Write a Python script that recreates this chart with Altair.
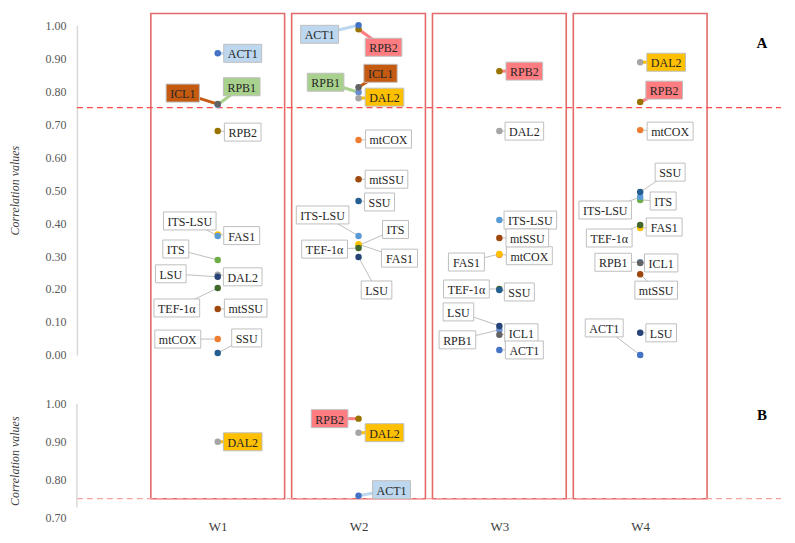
import altair as alt
import pandas as pd

# ---------------- data ----------------
genes = ["ACT1", "DAL2", "FAS1", "ICL1", "ITS", "ITS-LSU", "LSU",
         "mtCOX", "mtSSU", "RPB1", "RPB2", "SSU", "TEF-1α"]
windows = ["W1", "W2", "W3", "W4"]

a_w1 = [0.915, 0.243, 0.365, 0.761, 0.288, 0.361, 0.237, 0.048, 0.139, 0.759, 0.679, 0.006, 0.203]
a_w2 = [1.000, 0.779, 0.336, 0.812, 0.332, 0.361, 0.297, 0.652, 0.533, 0.797, 0.988, 0.467, 0.324]
a_w3 = [0.015, 0.679, 0.306, 0.061, None, 0.409, 0.088, 0.304, 0.355, 0.076, 0.861, 0.197, 0.200]
a_w4 = [0.000, 0.888, 0.385, 0.279, 0.470, 0.479, 0.067, 0.682, 0.245, 0.281, 0.767, 0.494, 0.394]

b_window = ["W1", "W2", "W2", "W2"]
b_gene = ["DAL2", "RPB2", "DAL2", "ACT1"]
b_value = [0.900, 0.961, 0.924, 0.758]

threshold = 0.75
a_ticks = [0.0, 0.1, 0.2, 0.3, 0.4, 0.5, 0.6, 0.7, 0.8, 0.9, 1.0]
b_ticks = [0.70, 0.80, 0.90, 1.00]

# ---------------- styles / layout ----------------
point_colors = {"ACT1": "#4472C4", "mtCOX": "#ED7D31", "DAL2": "#A5A5A5", "FAS1": "#FFC000",
                "ITS-LSU": "#5B9BD5", "ITS": "#70AD47", "LSU": "#264478", "mtSSU": "#9E480E",
                "ICL1": "#636363", "RPB2": "#997300", "SSU": "#255E91", "TEF-1α": "#43682B",
                "RPB1": "#698ED0"}
highlight_fill = {"ACT1": "#BDD7EE", "DAL2": "#FFC000", "ICL1": "#C55A11",
                  "RPB1": "#A9D18E", "RPB2": "#FF7C80"}
draw_order = ["RPB1", "ITS", "mtCOX", "FAS1", "DAL2", "ICL1", "ITS-LSU", "TEF-1α",
              "SSU", "LSU", "RPB2", "ACT1", "mtSSU"]

# label-box centre offsets (pixels) from each point
a_offsets = {
    "W1": {"ACT1": (25, 0), "ICL1": (-35, -11), "RPB1": (24, -18), "RPB2": (25, 1),
           "ITS-LSU": (-28, -15), "FAS1": (24, 1), "ITS": (-42, -11), "LSU": (-47, -3),
           "DAL2": (25, 2), "TEF-1α": (-41, 20), "mtSSU": (28, -1), "mtCOX": (-40, 0),
           "SSU": (29, -15)},
    "W2": {"ACT1": (-39, 9), "RPB2": (25, 18), "RPB1": (-33, -10), "ICL1": (22, -14),
           "DAL2": (26, -1), "mtCOX": (30, -1), "mtSSU": (28, 0), "SSU": (21, 1),
           "ITS-LSU": (-36, -21), "ITS": (37, -16), "TEF-1α": (-34, 1), "FAS1": (41, 14),
           "LSU": (18, 33)},
    "W3": {"RPB2": (25, 0), "DAL2": (25, 0), "ITS-LSU": (31, 0), "mtSSU": (28, 0),
           "mtCOX": (30, 1), "FAS1": (-33, 8), "TEF-1α": (-33, 0), "SSU": (20, 2),
           "LSU": (-41, -14), "RPB1": (-42, 10), "ICL1": (22, -2), "ACT1": (25, 0)},
    "W4": {"DAL2": (26, 0), "RPB2": (24, -12), "mtCOX": (30, 1), "SSU": (30, -20),
           "ITS": (23, 1), "ITS-LSU": (-35, 13), "FAS1": (24, -1), "TEF-1α": (-31, 13),
           "RPB1": (-27, 0), "ICL1": (21, 0), "mtSSU": (16, 16), "LSU": (21, 0),
           "ACT1": (-36, -27)},
}
b_offsets = [(25, 0), (-29, 0), (26, 0), (33, -6)]

W_PX = 705
X_MAX = 5
H_A = 330
H_B = 114
GAP = 49
B_MIN, B_MAX = 0.70, 1.00
FONT = "Liberation Serif"
FS = 12
PAD_X = 4
BOX_H = 18
FRAME_HALF = 0.475

char_w = {'A': 722, 'B': 667, 'C': 667, 'D': 722, 'E': 611, 'F': 556, 'I': 333, 'L': 611,
          'O': 722, 'P': 556, 'R': 667, 'S': 556, 'T': 611, 'U': 722, 'X': 722, 'm': 778,
          't': 278, '-': 333, '1': 500, '2': 500, 'α': 540}


def text_w(s):
    return sum(char_w.get(c, 560) for c in s) / 1000 * FS


def build(rows, y_per_px):
    recs = []
    for wi, g, v, dx, dy in rows:
        x = wi
        lx = x + dx * X_MAX / W_PX
        ly = v - dy * y_per_px
        hw = (text_w(g) + 2 * PAD_X) / 2 * X_MAX / W_PX
        hh = BOX_H / 2 * y_per_px
        hi = v >= threshold
        recs.append(dict(
            gene=g, w=x, value=v, lx=lx, ly=ly,
            bx1=lx - hw, bx2=lx + hw, by1=ly - hh, by2=ly + hh,
            fill=highlight_fill[g] if hi else "#FFFFFF",
            ccol=highlight_fill[g] if hi else "#BFBFBF",
            cw=3 if hi else 1,
            pcol=point_colors[g],
            ordr=draw_order.index(g),
        ))
    df = pd.DataFrame(recs)
    return df.sort_values(["ordr", "w"]).reset_index(drop=True)


a_rows = []
for wname, vals in zip(windows, [a_w1, a_w2, a_w3, a_w4]):
    wi = windows.index(wname) + 1
    for g, v in zip(genes, vals):
        if v is None:
            continue
        dx, dy = a_offsets[wname][g]
        a_rows.append((wi, g, v, dx, dy))
dfA = build(a_rows, 1.0 / H_A)

b_rows = []
for wname, g, v, (dx, dy) in zip(b_window, b_gene, b_value, b_offsets):
    b_rows.append((windows.index(wname) + 1, g, v, dx, dy))
dfB = build(b_rows, (B_MAX - B_MIN) / H_B)

frame_top = 1.036
frame_bot = 1 - (H_A + GAP + (B_MAX - threshold) / (B_MAX - B_MIN) * H_B) / H_A
frames = pd.DataFrame({
    "x1": [i + 1 - FRAME_HALF for i in range(len(windows))],
    "x2": [i + 1 + FRAME_HALF for i in range(len(windows))],
    "top": [frame_top] * len(windows),
    "bot": [frame_bot] * len(windows),
})

xs = alt.Scale(domain=[0, X_MAX], nice=False, zero=False)
ysA = alt.Scale(domain=[0, 1], nice=False, zero=False)
ysB = alt.Scale(domain=[B_MIN, B_MAX], nice=False, zero=False)

# identical axis definitions given to every layer of a panel
yaxA = alt.Axis(values=a_ticks, format=".2f", title="Correlation values",
                domain=True, domainColor="#D9D9D9", domainWidth=1.5,
                ticks=False, tickSize=0, grid=False, labelPadding=11, titlePadding=23)
yaxB = alt.Axis(values=b_ticks, format=".2f", title="Correlation values",
                domain=False, ticks=False, tickSize=0, grid=False, labelPadding=11,
                titlePadding=23)
xaxB = alt.Axis(values=[1, 2, 3, 4], labelExpr="'W' + datum.value", title=None,
                domain=False, ticks=False, tickSize=0, grid=False, labelPadding=3,
                labelFontSize=13, labelColor="#404040")


def X(field, xax):
    if xax is None:
        return alt.X(field, scale=xs, axis=None)
    return alt.X(field, scale=xs, axis=xax)


def Y(field, ys, yax):
    return alt.Y(field, scale=ys, axis=yax)


def panel_layers(df, ys, yax, xax):
    conn = alt.Chart(df).mark_rule().encode(
        x=X("w:Q", xax), y=Y("value:Q", ys, yax),
        x2="lx:Q", y2="ly:Q",
        color=alt.Color("ccol:N", scale=None),
        strokeWidth=alt.StrokeWidth("cw:Q", scale=None))
    boxes = alt.Chart(df).mark_rect(stroke="#BFBFBF", strokeWidth=1).encode(
        x=X("bx1:Q", xax), x2="bx2:Q",
        y=Y("by1:Q", ys, yax), y2="by2:Q",
        fill=alt.Fill("fill:N", scale=None))
    texts = alt.Chart(df).mark_text(font=FONT, fontSize=FS, color="#262626", dy=1).encode(
        x=X("lx:Q", xax), y=Y("ly:Q", ys, yax), text="gene:N")
    pts = alt.Chart(df).mark_circle(size=42, opacity=1).encode(
        x=X("w:Q", xax), y=Y("value:Q", ys, yax),
        color=alt.Color("pcol:N", scale=None))
    return [conn, boxes, texts, pts]


def threshold_layer(ys, yax, xax, color):
    return alt.Chart(pd.DataFrame({"t": [threshold], "a": [0], "b": [X_MAX]})).mark_rule(
        color=color, strokeWidth=1.2, strokeDash=[6, 4]).encode(
        y=Y("t:Q", ys, yax), x=X("a:Q", xax), x2="b:Q")


def letter_layer(letter, yval, ys, yax, xax):
    return alt.Chart(pd.DataFrame({"t": [letter], "x": [4.865], "y": [yval]})).mark_text(
        font=FONT, fontSize=15, fontWeight="bold", color="#000000").encode(
        x=X("x:Q", xax), y=Y("y:Q", ys, yax), text="t:N")


# ---------------- panel A ----------------
frA = alt.Chart(frames).mark_rect(fillOpacity=0, stroke="#E46A6A", strokeWidth=1.6).encode(
    x=X("x1:Q", None), x2="x2:Q", y=Y("top:Q", ysA, yaxA), y2="bot:Q")
chartA = alt.layer(
    frA, threshold_layer(ysA, yaxA, None, "#FF4D4D"),
    *panel_layers(dfA, ysA, yaxA, None),
    letter_layer("A", 0.945, ysA, yaxA, None),
).properties(width=W_PX, height=H_A)

# ---------------- panel B ----------------
axB = alt.Chart(pd.DataFrame({"x": [0], "y1": [0.727], "y2": [B_MAX]})).mark_rule(
    color="#D9D9D9", strokeWidth=1.5).encode(
    x=X("x:Q", xaxB), y=Y("y1:Q", ysB, yaxB), y2="y2:Q")
chartB = alt.layer(
    threshold_layer(ysB, yaxB, xaxB, "#F7A1A1"), axB,
    *panel_layers(dfB, ysB, yaxB, xaxB),
    letter_layer("B", 0.971, ysB, yaxB, xaxB),
).properties(width=W_PX, height=H_B)

chart = alt.vconcat(chartA, chartB, spacing=GAP, bounds="flush").properties(
    padding={"left": 0, "top": 3, "right": 4, "bottom": 0}
).configure_view(stroke="transparent").configure_axis(
    labelFont=FONT, titleFont=FONT, labelFontSize=12, titleFontSize=12,
    labelColor="#595959", titleColor="#404040", titleFontStyle="italic",
    titleFontWeight="normal")

chart.save("out.html", embed_options={"renderer": "svg", "actions": False})
